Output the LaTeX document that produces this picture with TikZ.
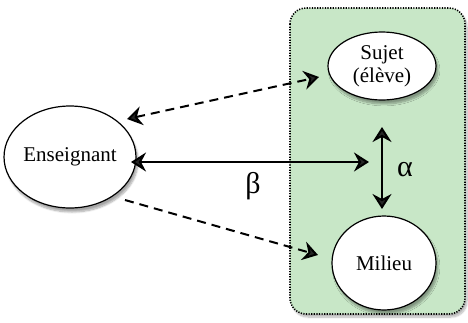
\documentclass[tikz,border=0pt]{standalone}
\usepackage{fontspec}
\setmainfont{Liberation Serif}
\usetikzlibrary{arrows.meta,shadows.blur,shapes.geometric}
\definecolor{zone}{RGB}{200,231,199}
\tikzset{
  tip/.tip={Stealth[length=15pt,width=19pt,inset=5pt]},
  actor/.style={ellipse, draw=black, line width=1.2pt, fill=white, inner sep=0pt,
    font=\fontsize{21}{23}\selectfont, align=center,
    blur shadow={shadow xshift=2pt, shadow yshift=-4pt, shadow blur steps=8, shadow opacity=35}},
  link/.style={line width=2pt, tip-tip},
  hint/.style={line width=2pt, dash pattern=on 9pt off 6pt},
  greek/.style={font=\fontsize{30}{32}\selectfont}
}
\begin{document}
\begin{tikzpicture}[x=1pt,y=-1pt]
\useasboundingbox (0,0) rectangle (468,322);
% system zone
\draw[fill=zone, line width=1.6pt, dash pattern=on 1.2pt off 1.4pt, rounded corners=16pt,
  blur shadow={shadow xshift=2pt, shadow yshift=-3pt, shadow blur steps=8, shadow opacity=30}]
  (290,8) rectangle (465,314);
% actors
\node[actor, minimum width=116pt, minimum height=102pt] (ens) at (70,157) {Enseignant};
\node[actor, minimum width=108pt, minimum height=68pt] (suj) at (382,66) {Sujet\\(élève)};
\node[actor, minimum width=104pt, minimum height=94pt] (mil) at (384,263) {Milieu};
% relation anchors
\coordinate (bL) at (131,162);
\coordinate (bR) at (369,162);
\coordinate (aT) at (382,127);
\coordinate (aB) at (382,209);
\coordinate (uS) at (127,119);
\coordinate (uE) at (319,77);
\coordinate (dS) at (125,200);
\coordinate (dE) at (318,255);
% relations
\draw[link] (bL) -- (bR);
\draw[link] (aT) -- (aB);
\draw[hint, tip-tip] (uS) -- (uE);
\draw[hint, -tip] (dS) -- (dE);
\node[greek] (beta) at (253,186) {β};
\node[greek] (alpha) at (405,170) {α};
\end{tikzpicture}
\end{document}
